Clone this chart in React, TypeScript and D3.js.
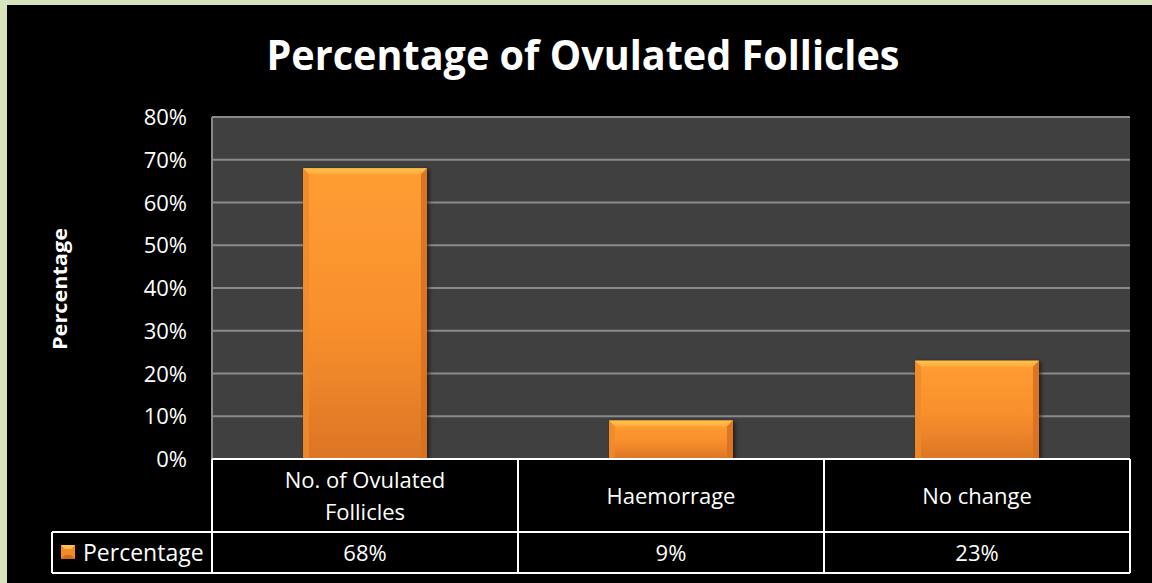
import React from "react";
import * as d3 from "d3";

const categories: string[][] = [["No. of Ovulated", "Follicles"], ["Haemorrage"], ["No change"]];
const seriesName = "Percentage";
const values: number[] = [68, 9, 23];
const valueLabels: string[] = ["68%", "9%", "23%"];
const yTicks: number[] = [0, 10, 20, 30, 40, 50, 60, 70, 80];
const title = "Percentage of Ovulated Follicles";
const yTitle = "Percentage";

const W = 1152;
const H = 583;
const FONT = "'Open Sans', Lato, sans-serif";

export default function App() {
  const plot = { left: 212, right: 1130, top: 117, bottom: 459 };
  const x = d3
    .scaleBand<number>()
    .domain(d3.range(values.length))
    .range([plot.left, plot.right])
    .paddingInner(0.595)
    .paddingOuter(0.2975);
  const y = d3.scaleLinear().domain([0, 80]).range([plot.bottom, plot.top]);
  const step = x.step();
  const tableTop = plot.bottom;
  const rowSplit = 532;
  const tableBottom = 573;
  const legendLeft = 52;
  const bev = 6;
  const labelSize = 22;

  return (
    <svg
      width={W}
      height={H}
      style={{ position: "absolute", left: 0, top: 0, display: "block" }}
      fontFamily={FONT}
    >
      <defs>
        <linearGradient id="barFill" x1="0" y1="0" x2="0" y2="1">
          <stop offset="0" stopColor="#ff9d33" />
          <stop offset="0.55" stopColor="#f88f2c" />
          <stop offset="1" stopColor="#dc7526" />
        </linearGradient>
        <linearGradient id="barTop" x1="0" y1="0" x2="0" y2="1">
          <stop offset="0" stopColor="#ffc24a" />
          <stop offset="1" stopColor="#ffab3c" />
        </linearGradient>
        <filter id="barShadow" x="-20%" y="-20%" width="140%" height="140%">
          <feGaussianBlur in="SourceAlpha" stdDeviation="2" />
          <feOffset dx="2" dy="1" result="b" />
          <feComponentTransfer>
            <feFuncA type="linear" slope="0.6" />
          </feComponentTransfer>
          <feMerge>
            <feMergeNode />
            <feMergeNode in="SourceGraphic" />
          </feMerge>
        </filter>
      </defs>

      {/* page frame */}
      <rect x={0} y={0} width={W} height={H} fill="#d8e4bc" />
      <rect x={7} y={5} width={W - 7} height={H - 5} fill="#000000" />

      {/* title */}
      <text
        x={583}
        y={70}
        textAnchor="middle"
        fill="#ffffff"
        fontSize={41}
        fontWeight="bold"
        textLength={633}
        lengthAdjust="spacingAndGlyphs"
      >
        {title}
      </text>

      {/* plot area */}
      <rect
        x={plot.left}
        y={plot.top}
        width={plot.right - plot.left}
        height={plot.bottom - plot.top}
        fill="#404040"
      />
      {yTicks.map((t) => (
        <line
          key={"g" + t}
          x1={plot.left}
          x2={plot.right}
          y1={y(t)}
          y2={y(t)}
          stroke="#8a8a8a"
          strokeWidth={2}
        />
      ))}
      <line x1={plot.left} x2={plot.left} y1={plot.top} y2={plot.bottom} stroke="#8a8a8a" strokeWidth={2} />

      {/* y tick labels */}
      {yTicks.map((t) => (
        <text
          key={"t" + t}
          x={187}
          y={y(t) + 8}
          textAnchor="end"
          fill="#ffffff"
          fontSize={labelSize}
        >
          {t + "%"}
        </text>
      ))}

      {/* y axis title */}
      <text
        transform={`translate(67,${(plot.top + plot.bottom) / 2 + 1}) rotate(-90)`}
        textAnchor="middle"
        fill="#ffffff"
        fontSize={19}
        fontWeight="bold"
        textLength={122}
        lengthAdjust="spacingAndGlyphs"
      >
        {yTitle}
      </text>

      {/* bars */}
      {values.map((v, i) => {
        const x0 = x(i)!;
        const w = x.bandwidth();
        const y0 = y(v);
        const y1 = y(0);
        const h = y1 - y0;
        const b = Math.min(bev, h / 2);
        return (
          <g key={"b" + i}>
            <rect x={x0} y={y0} width={w} height={h} fill="url(#barFill)" filter="url(#barShadow)" />
            <polygon
              points={`${x0},${y0} ${x0 + w},${y0} ${x0 + w - b},${y0 + b} ${x0 + b},${y0 + b}`}
              fill="url(#barTop)"
            />
            <polygon
              points={`${x0},${y0} ${x0 + b},${y0 + b} ${x0 + b},${y1} ${x0},${y1}`}
              fill="#f08a2a"
              opacity={0.85}
            />
            <polygon
              points={`${x0 + w},${y0} ${x0 + w - b},${y0 + b} ${x0 + w - b},${y1} ${x0 + w},${y1}`}
              fill="#d8711f"
              opacity={0.9}
            />
          </g>
        );
      })}

      {/* data table */}
      <g stroke="#ffffff" strokeWidth={2} fill="none">
        <line x1={plot.left} x2={plot.right} y1={tableTop} y2={tableTop} />
        <line x1={legendLeft} x2={plot.right} y1={rowSplit} y2={rowSplit} />
        <line x1={legendLeft} x2={plot.right} y1={tableBottom} y2={tableBottom} />
        <line x1={legendLeft} x2={legendLeft} y1={rowSplit} y2={tableBottom} />
        {d3.range(values.length + 1).map((k) => (
          <line
            key={"v" + k}
            x1={plot.left + k * step}
            x2={plot.left + k * step}
            y1={tableTop}
            y2={tableBottom}
          />
        ))}
      </g>

      {categories.map((lines, i) => {
        const cx = x(i)! + x.bandwidth() / 2;
        const mid = (tableTop + rowSplit) / 2;
        const lh = 32;
        const start = mid - ((lines.length - 1) * lh) / 2 + 8;
        return (
          <text key={"c" + i} textAnchor="middle" fill="#ffffff" fontSize={labelSize}>
            {lines.map((ln, j) => (
              <tspan key={j} x={cx} y={start + j * lh}>
                {ln}
              </tspan>
            ))}
          </text>
        );
      })}

      {valueLabels.map((lab, i) => (
        <text
          key={"val" + i}
          x={x(i)! + x.bandwidth() / 2}
          y={561}
          textAnchor="middle"
          fill="#ffffff"
          fontSize={labelSize}
        >
          {lab}
        </text>
      ))}

      {/* legend key */}
      <g>
        <rect x={61} y={545} width={14} height={14} fill="#f28a2a" />
        <polygon points="61,545 75,545 71,549 65,549" fill="#ffc24a" />
        <polygon points="61,559 75,559 71,555 65,555" fill="#d06a1e" />
      </g>
      <text x={83} y={561} fill="#ffffff" fontSize={23}>
        {seriesName}
      </text>
    </svg>
  );
}
